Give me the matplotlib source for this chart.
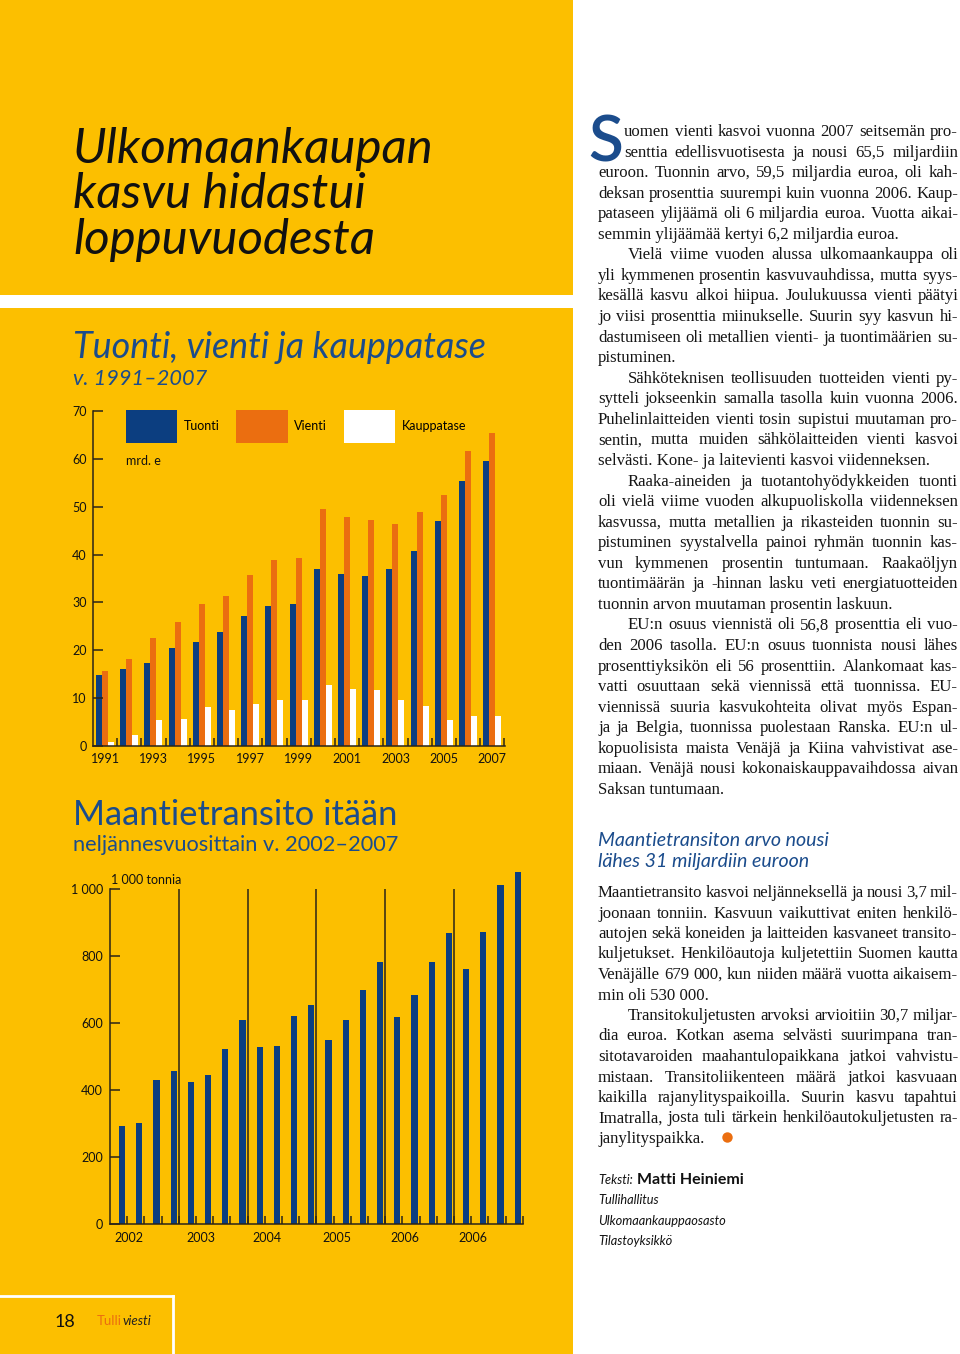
import matplotlib
matplotlib.use('Agg')
import matplotlib.pyplot as plt
import numpy as np
from matplotlib.patches import Rectangle, Patch
from matplotlib.lines import Line2D
from matplotlib.font_manager import FontProperties

# ---------------- data ----------------
years = list(range(1991, 2008))
tuonti = [14.8, 16.0, 17.4, 20.4, 21.7, 23.9, 27.1, 29.2, 29.7, 36.9,
          36.0, 35.6, 36.9, 40.8, 47.1, 55.3, 59.5]
vienti = [15.7, 18.1, 22.6, 26.0, 29.6, 31.4, 35.8, 38.8, 39.3, 49.5,
          47.8, 47.3, 46.4, 49.0, 52.5, 61.6, 65.5]
kauppatase = [0.9, 2.2, 5.4, 5.7, 8.1, 7.6, 8.8, 9.7, 9.6, 12.7,
              12.0, 11.7, 9.6, 8.3, 5.4, 6.3, 6.2]
top_yticks = [0, 10, 20, 30, 40, 50, 60, 70]

transit_quarters = [293, 302, 430, 458, 425, 444, 522, 610,
                    528, 532, 622, 654, 550, 608, 700, 783,
                    618, 683, 783, 868, 761, 873, 1013, 1052]
transit_year_labels = ['2002', '2003', '2004', '2005', '2006', '2006']
bottom_yticks = [0, 200, 400, 600, 800, 1000]
bottom_yticklabels = ['0', '200', '400', '600', '800', '1 000']

# ---------------- style ----------------
W, H = 960, 1354
YELLOW = '#FCBF00'
NAVY = '#0C3E80'
ORANGE = '#EB6E10'
BLUE_T = '#1B4C8C'
DARK = '#2a2418'
plt.rcParams['font.family'] = ['Lato', 'DejaVu Sans']

fig = plt.figure(figsize=(9.6, 13.54), dpi=100)
fig.patch.set_facecolor('white')
renderer = fig.canvas.get_renderer()


def fx(px):
    return px / W


def fy(py):
    return 1 - py / H


def text_w(s, fp):
    return renderer.get_text_width_height_descent(s, fp, ismath=False)[0]


def fit_fp(s, target, family='Lato', style='normal', weight='normal'):
    fp = FontProperties(family=family, style=style, weight=weight, size=20)
    w = text_w(s, fp)
    return FontProperties(family=family, style=style, weight=weight, size=20 * target / w)


# yellow panel, white stripe, footer box (behind the axes)
fig.patches.append(Rectangle((0, 0), fx(573), 1, transform=fig.transFigure,
                             facecolor=YELLOW, edgecolor='none', zorder=-2))
fig.patches.append(Rectangle((0, fy(308)), fx(573), 13 / H, transform=fig.transFigure,
                             facecolor='white', edgecolor='none', zorder=-1))
fig.add_artist(Line2D([0, fx(173)], [fy(1296), fy(1296)], color='white', lw=2, zorder=-1))
fig.add_artist(Line2D([fx(173), fx(173)], [fy(1296), 0], color='white', lw=2, zorder=-1))

# ---------------- titles ----------------
fp_t = fit_fp('Ulkomaankaupan', 360, style='italic')
for i, line in enumerate(['Ulkomaankaupan', 'kasvu hidastui', 'loppuvuodesta']):
    fig.text(fx(73), fy(163 + 45.5 * i), line, fontproperties=fp_t, color='#111111', va='baseline')

fig.text(fx(73), fy(358), 'Tuonti, vienti ja kauppatase',
         fontproperties=fit_fp('Tuonti, vienti ja kauppatase', 412, style='italic'),
         color=BLUE_T, va='baseline')
fig.text(fx(73), fy(385), 'v. 1991–2007',
         fontproperties=fit_fp('v. 1991–2007', 134, style='italic'), color=BLUE_T, va='baseline')

fig.text(fx(73), fy(825), 'Maantietransito itään',
         fontproperties=fit_fp('Maantietransito itään', 325), color=BLUE_T, va='baseline')
fig.text(fx(73), fy(851), 'neljännesvuosittain v. 2002–2007',
         fontproperties=fit_fp('neljännesvuosittain v. 2002–2007', 325), color=BLUE_T, va='baseline')

# ---------------- top chart ----------------
ax1 = fig.add_axes([fx(93), fy(746), (505 - 93) / W, (746 - 411) / H])
ax1.patch.set_alpha(0)
x = np.arange(len(years))
bw = 0.248
ax1.bar(x - bw, tuonti, width=bw, color=NAVY, linewidth=0)
ax1.bar(x, vienti, width=bw, color=ORANGE, linewidth=0)
ax1.bar(x + bw, kauppatase, width=bw, color='white', linewidth=0)
ax1.set_xlim(-0.5, 16.53)
ax1.set_ylim(0, 70)
for s in ['top', 'right']:
    ax1.spines[s].set_visible(False)
for s in ['left', 'bottom']:
    ax1.spines[s].set_color(DARK)
    ax1.spines[s].set_linewidth(1.1)
ax1.set_yticks(top_yticks)
ax1.tick_params(axis='y', direction='in', length=7, width=1.1, color=DARK,
                labelsize=9, pad=4.5, labelcolor='#111111')
ax1.set_xticks(x + 0.5)
ax1.set_xticklabels([])
ax1.set_xticks(x[::2], labels=[str(y) for y in years[::2]], minor=True)
ax1.tick_params(axis='x', which='major', direction='in', length=6, width=1.1, color=DARK)
ax1.tick_params(axis='x', which='minor', length=0, pad=5, labelsize=9, labelcolor='#111111')

handles = [Patch(facecolor=NAVY, edgecolor='none'),
           Patch(facecolor=ORANGE, edgecolor='none'),
           Patch(facecolor='white', edgecolor='none')]
ax1.legend(handles, ['Tuonti', 'Vienti', 'Kauppatase'], ncol=3, loc='upper left',
           bbox_to_anchor=(fx(126), fy(410)), bbox_transform=fig.transFigure,
           frameon=False, fontsize=9, handlelength=4.1, handleheight=3.7,
           handletextpad=0.55, columnspacing=1.3, borderpad=0, borderaxespad=0)
ax1.text(0.08, 0.851, 'mrd. e', transform=ax1.transAxes, fontsize=9, va='center',
         color='#111111')

# ---------------- bottom chart ----------------
ax2 = fig.add_axes([fx(110), fy(1224), (523 - 110) / W, (1224 - 869) / H])
ax2.patch.set_alpha(0)
q = np.arange(len(transit_quarters))
ax2.bar(q, transit_quarters, width=0.36, color=NAVY, linewidth=0)
ax2.set_xlim(-0.698, 23.31)
ax2.set_ylim(0, 1060)
for s in ['top', 'right']:
    ax2.spines[s].set_visible(False)
for s in ['left', 'bottom']:
    ax2.spines[s].set_color(DARK)
    ax2.spines[s].set_linewidth(1.1)
ax2.spines['left'].set_bounds(0, 1000)
ax2.vlines(q[3::4][:-1] + 0.3, 0, 1000, color=DARK, lw=1.1)
ax2.set_yticks(bottom_yticks, labels=bottom_yticklabels)
ax2.tick_params(axis='y', direction='in', length=7, width=1.1, color=DARK,
                labelsize=9, pad=5, labelcolor='#111111')
ax2.set_xticks(q + 0.3)
ax2.set_xticklabels([])
ax2.set_xticks([0.4, 4.6, 8.45, 12.5, 16.45, 20.4], labels=transit_year_labels, minor=True)
ax2.tick_params(axis='x', which='major', direction='in', length=6, width=1.1, color=DARK)
ax2.tick_params(axis='x', which='minor', length=0, pad=6, labelsize=9, labelcolor='#111111')
ax2.text(0.003, 0.969, '1 000 tonnia', transform=ax2.transAxes, fontsize=9,
         va='center', ha='left', color='#111111')

# ---------------- right text column ----------------
X0, X1 = 598, 958
body_fp = fit_fp('selvästi. Kone- ja laitevienti kasvoi viidenneksen.', 333,
                 family='Liberation Serif')

sec1 = [
    ("uomen vienti kasvoi vuonna 2007 seitsemän pro-", True, 624),
    ("senttia edellisvuotisesta ja nousi 65,5 miljardiin", True, 624),
    ("euroon. Tuonnin arvo, 59,5 miljardia euroa, oli kah-", True, X0),
    ("deksan prosenttia suurempi kuin vuonna 2006. Kaup-", True, X0),
    ("pataseen ylijäämä oli 6 miljardia euroa. Vuotta aikai-", True, X0),
    ("semmin ylijäämää kertyi 6,2 miljardia euroa.", False, X0),
    ("Vielä viime vuoden alussa ulkomaankauppa oli", True, 628),
    ("yli kymmenen prosentin kasvuvauhdissa, mutta syys-", True, X0),
    ("kesällä kasvu alkoi hiipua. Joulukuussa vienti päätyi", True, X0),
    ("jo viisi prosenttia miinukselle. Suurin syy kasvun hi-", True, X0),
    ("dastumiseen oli metallien vienti- ja tuontimäärien su-", True, X0),
    ("pistuminen.", False, X0),
    ("Sähköteknisen teollisuuden tuotteiden vienti py-", True, 628),
    ("sytteli jokseenkin samalla tasolla kuin vuonna 2006.", True, X0),
    ("Puhelinlaitteiden vienti tosin supistui muutaman pro-", True, X0),
    ("sentin, mutta muiden sähkölaitteiden vienti kasvoi", True, X0),
    ("selvästi. Kone- ja laitevienti kasvoi viidenneksen.", False, X0),
    ("Raaka-aineiden ja tuotantohyödykkeiden tuonti", True, 628),
    ("oli vielä viime vuoden alkupuoliskolla viidenneksen", True, X0),
    ("kasvussa, mutta metallien ja rikasteiden tuonnin su-", True, X0),
    ("pistuminen syystalvella painoi ryhmän tuonnin kas-", True, X0),
    ("vun kymmenen prosentin tuntumaan. Raakaöljyn", True, X0),
    ("tuontimäärän ja -hinnan lasku veti energiatuotteiden", True, X0),
    ("tuonnin arvon muutaman prosentin laskuun.", False, X0),
    ("EU:n osuus viennistä oli 56,8 prosenttia eli vuo-", True, 628),
    ("den 2006 tasolla. EU:n osuus tuonnista nousi lähes", True, X0),
    ("prosenttiyksikön eli 56 prosenttiin. Alankomaat kas-", True, X0),
    ("vatti osuuttaan sekä viennissä että tuonnissa. EU-", True, X0),
    ("viennissä suuria kasvukohteita olivat myös Espan-", True, X0),
    ("ja ja Belgia, tuonnissa puolestaan Ranska. EU:n ul-", True, X0),
    ("kopuolisista maista Venäjä ja Kiina vahvistivat ase-", True, X0),
    ("miaan. Venäjä nousi kokonaiskauppavaihdossa aivan", True, X0),
    ("Saksan tuntumaan.", False, X0),
]
sec2 = [
    ("Maantietransito kasvoi neljänneksellä ja nousi 3,7 mil-", True, X0),
    ("joonaan tonniin. Kasvuun vaikuttivat eniten henkilö-", True, X0),
    ("autojen sekä koneiden ja laitteiden kasvaneet transito-", True, X0),
    ("kuljetukset. Henkilöautoja kuljetettiin Suomen kautta", True, X0),
    ("Venäjälle 679 000, kun niiden määrä vuotta aikaisem-", True, X0),
    ("min oli 530 000.", False, X0),
    ("Transitokuljetusten arvoksi arvioitiin 30,7 miljar-", True, 628),
    ("dia euroa. Kotkan asema selvästi suurimpana tran-", True, X0),
    ("sitotavaroiden maahantulopaikkana jatkoi vahvistu-", True, X0),
    ("mistaan. Transitoliikenteen määrä jatkoi kasvuaan", True, X0),
    ("kaikilla rajanylityspaikoilla. Suurin kasvu tapahtui", True, X0),
    ("Imatralla, josta tuli tärkein henkilöautokuljetusten ra-", True, X0),
    ("janylityspaikka.", False, X0),
]

# shrink body font if any justified line would be too tight
all_lines = sec1 + sec2
size = body_fp.get_size()
while True:
    fp_try = FontProperties(family='Liberation Serif', size=size)
    sp = text_w('a b', fp_try) - text_w('ab', fp_try)
    ok = True
    for t, j, xs in all_lines:
        if j:
            words = t.split(' ')
            nat = sum(text_w(w, fp_try) for w in words)
            gap = (X1 - xs - nat) / (len(words) - 1)
            if gap < 0.65 * sp:
                ok = False
                break
    if ok:
        break
    size -= 0.1
body_fp = FontProperties(family='Liberation Serif', size=size)


def draw_line(t, xs, base, fp, justify, color='#151515'):
    if not justify:
        fig.text(fx(xs), fy(base), t, fontproperties=fp, va='baseline', ha='left', color=color)
        return
    words = t.split(' ')
    widths = [text_w(w, fp) for w in words]
    gap = (X1 - xs - sum(widths)) / (len(words) - 1)
    xc = xs
    for w, wd in zip(words, widths):
        fig.text(fx(xc), fy(base), w, fontproperties=fp, va='baseline', ha='left', color=color)
        xc += wd + gap


for i, (t, j, xs) in enumerate(sec1):
    draw_line(t, xs, 136 + 20.56 * i, body_fp, j)
for i, (t, j, xs) in enumerate(sec2):
    draw_line(t, xs, 897 + 20.5 * i, body_fp, j)

# drop cap (kept left of the indented first two lines)
fig.text(fx(623), fy(161), 'S', fontproperties=FontProperties(family='Lato', weight='semibold', size=46),
         color=BLUE_T, va='baseline', ha='right')

# section heading
fp_h = fit_fp('Maantietransiton arvo nousi', 231, style='italic')
fig.text(fx(X0), fy(846), 'Maantietransiton arvo nousi', fontproperties=fp_h, color=BLUE_T, va='baseline')
fig.text(fx(X0), fy(867), 'lähes 31 miljardiin euroon', fontproperties=fp_h, color=BLUE_T, va='baseline')

# end bullet
fig.add_artist(Line2D([fx(727)], [fy(1137)], marker='o', markersize=7.5,
                      color=ORANGE, markeredgewidth=0))

# byline
fp_small_it = FontProperties(family='Lato', style='italic', size=9.2)
fig.text(fx(X0), fy(1184), 'Teksti:', fontproperties=fp_small_it, color='#111111', va='baseline')
fig.text(fx(637), fy(1184), 'Matti Heiniemi',
         fontproperties=fit_fp('Matti Heiniemi', 107, weight='bold'), color='#111111', va='baseline')
fig.text(fx(X0), fy(1204), 'Tullihallitus', fontproperties=fp_small_it, color='#111111', va='baseline')
fig.text(fx(X0), fy(1225), 'Ulkomaankauppaosasto', fontproperties=fp_small_it, color='#111111', va='baseline')
fig.text(fx(X0), fy(1245), 'Tilastoyksikkö', fontproperties=fp_small_it, color='#111111', va='baseline')

# footer
fig.text(fx(55), fy(1327), '18', fontproperties=FontProperties(family='Lato', size=13),
         color='#111111', va='baseline')
fig.text(fx(97), fy(1325), 'Tulli', fontproperties=FontProperties(family='Lato', size=9.5),
         color=ORANGE, va='baseline')
fig.text(fx(123), fy(1325), 'viesti', fontproperties=FontProperties(family='Lato', style='italic', size=9.5),
         color='#222222', va='baseline')

fig.savefig('out.png', dpi=100)
